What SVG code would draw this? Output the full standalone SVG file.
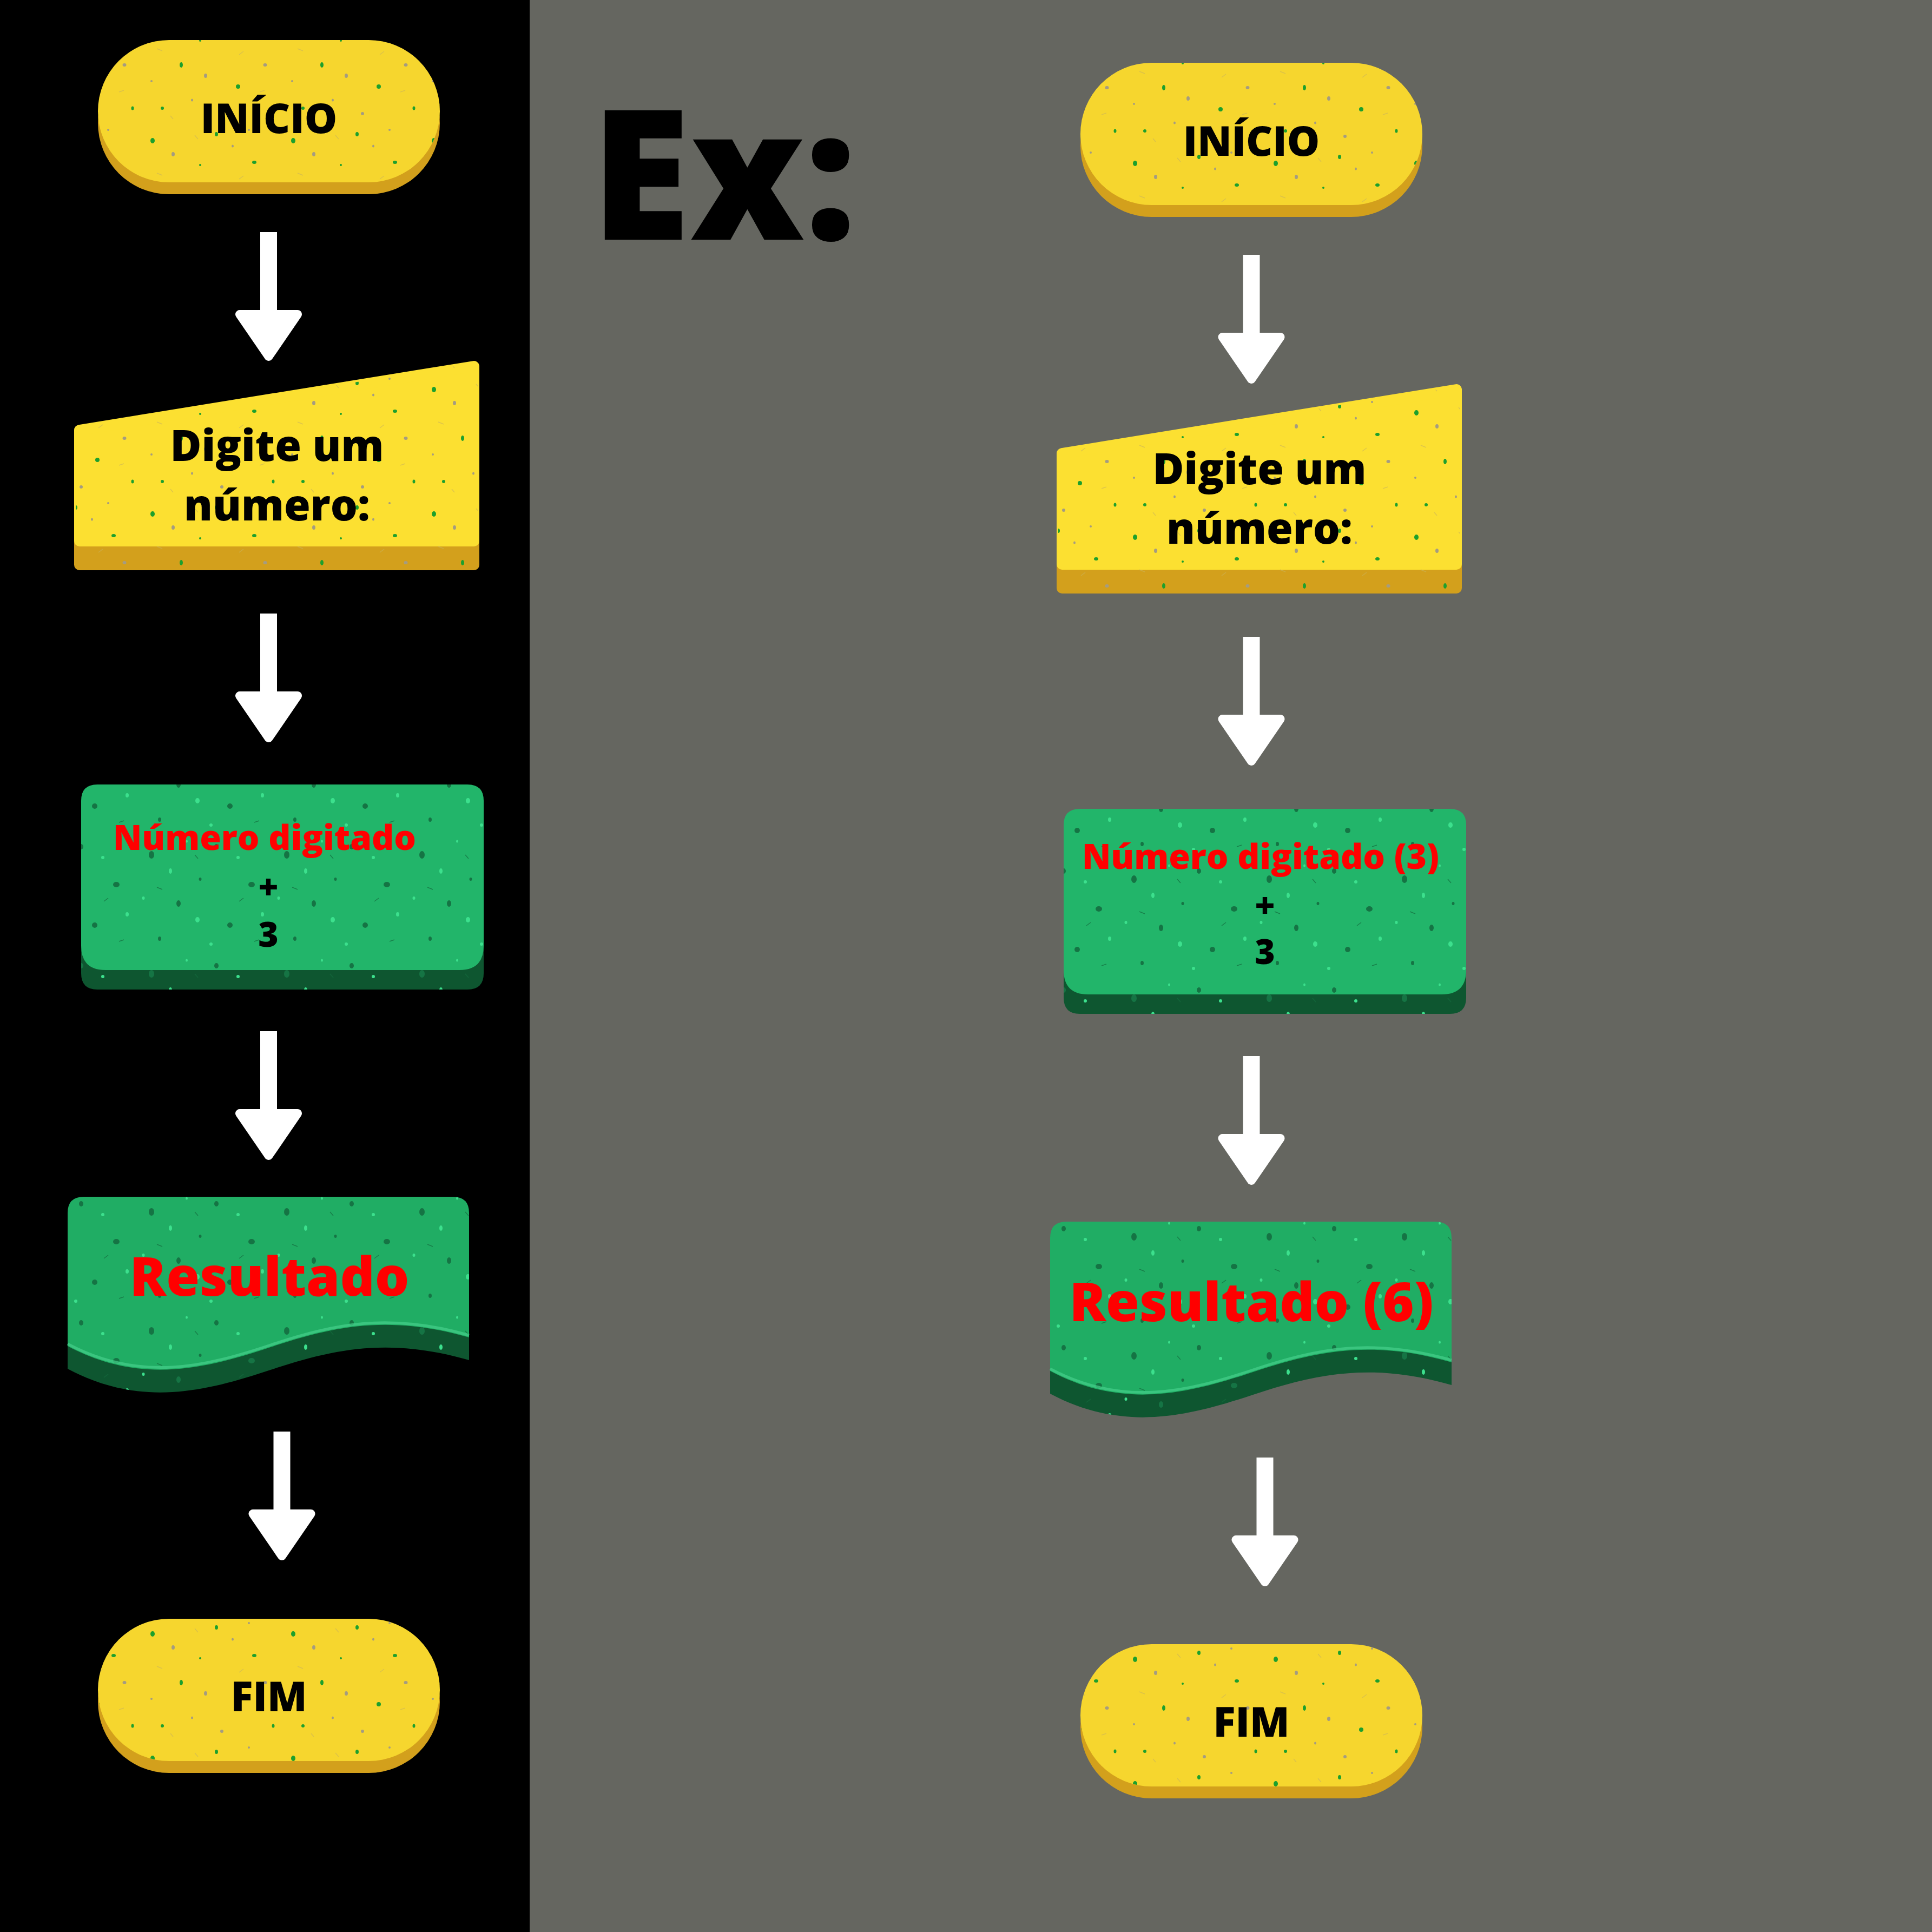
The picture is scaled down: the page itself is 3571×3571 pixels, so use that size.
<svg xmlns="http://www.w3.org/2000/svg" xmlns:xlink="http://www.w3.org/1999/xlink" width="3571" height="3571" viewBox="0 0 3571 3571">
<style>
.lbl{font-family:"Open Sans","Liberation Sans",sans-serif;font-weight:800;text-anchor:middle}
.blk{fill:#000}
.red{fill:#FF0000}
.yface{fill:#F6D62E}
.yface2{fill:#FCE031}
.yrim{fill:#D3A01C}
.gface{fill:#22B56A}
.gface2{fill:#20AD64}
.grim{fill:#0E5630}
.arrow{fill:#fff;stroke:#fff;stroke-width:16;stroke-linejoin:round}
</style>
<defs>
<pattern id="ySpk" patternUnits="userSpaceOnUse" width="260" height="230">
<g fill="#1DA02C">
<ellipse cx="22" cy="30" rx="4" ry="5"/><ellipse cx="140" cy="18" rx="3" ry="4"/><ellipse cx="210" cy="70" rx="4" ry="3"/>
<ellipse cx="75" cy="120" rx="3" ry="5"/><ellipse cx="180" cy="160" rx="4" ry="4"/><ellipse cx="40" cy="200" rx="3" ry="3"/>
<ellipse cx="245" cy="200" rx="2.5" ry="3.5"/><ellipse cx="110" cy="75" rx="2" ry="2"/>
</g>
<g fill="#A59C80">
<ellipse cx="60" cy="55" rx="3" ry="4"/><ellipse cx="170" cy="40" rx="2" ry="2.5"/><ellipse cx="230" cy="120" rx="3.5" ry="3"/>
<ellipse cx="120" cy="140" rx="3" ry="4"/><ellipse cx="20" cy="150" rx="2" ry="2"/><ellipse cx="150" cy="210" rx="3" ry="3"/>
<ellipse cx="95" cy="185" rx="2" ry="2.5"/><ellipse cx="200" cy="10" rx="2" ry="2"/>
</g>
<g stroke="#C9B25A" stroke-width="1.5" fill="none" opacity="0.6">
<path d="M30 90 l10 4"/><path d="M190 95 l-8 6"/><path d="M100 20 l6 7"/><path d="M220 170 l9 -3"/><path d="M60 220 l-5 -6"/>
</g>
</pattern>
<pattern id="gSpk" patternUnits="userSpaceOnUse" width="250" height="220">
<g fill="#157444">
<ellipse cx="30" cy="40" rx="5" ry="7"/><ellipse cx="150" cy="25" rx="4" ry="5"/><ellipse cx="215" cy="95" rx="6" ry="5"/>
<ellipse cx="80" cy="130" rx="4" ry="6"/><ellipse cx="175" cy="170" rx="5" ry="5"/><ellipse cx="45" cy="195" rx="3" ry="4"/>
<ellipse cx="120" cy="85" rx="2.5" ry="3"/>
</g>
<g fill="#3CE08D">
<ellipse cx="65" cy="70" rx="3" ry="5"/><ellipse cx="190" cy="45" rx="3" ry="3"/><ellipse cx="235" cy="150" rx="3" ry="4"/>
<ellipse cx="115" cy="160" rx="4" ry="5"/><ellipse cx="15" cy="120" rx="2.5" ry="3"/><ellipse cx="140" cy="205" rx="3" ry="3"/>
<ellipse cx="95" cy="15" rx="2" ry="2.5"/>
</g>
<g stroke="#126A3C" stroke-width="1.5" fill="none" opacity="0.7">
<path d="M40 100 l10 4"/><path d="M200 120 l-8 6"/><path d="M110 40 l6 7"/><path d="M220 200 l9 -3"/>
</g>
</pattern>
<g id="arrow">
<rect x="-15.5" y="0" width="31" height="152" fill="#fff"/>
<path class="arrow" d="M-53.5 152 L53.5 152 L0 230 Z"/>
</g>
</defs>

<rect x="0" y="0" width="3571" height="3571" fill="#656660"/>
<rect x="0" y="0" width="979" height="3571" fill="#000"/>

<text id="ex-title" x="1092" y="443" font-family="'Open Sans','Liberation Sans',sans-serif" font-weight="800" font-size="335" fill="#000">Ex:</text>

<g id="connectors">
<use xlink:href="#arrow" x="496.5" y="429"/>
<use xlink:href="#arrow" x="496.5" y="1134"/>
<use xlink:href="#arrow" x="496.5" y="1906"/>
<use xlink:href="#arrow" x="521" y="2646"/>
<use xlink:href="#arrow" x="2313" y="471"/>
<use xlink:href="#arrow" x="2313" y="1177"/>
<use xlink:href="#arrow" x="2313" y="1952"/>
<use xlink:href="#arrow" x="2338" y="2694"/>
</g>

<!-- LEFT COLUMN -->
<g id="l-inicio">
<rect class="yrim" x="181" y="96" width="632" height="263" rx="131.5"/>
<rect class="yface" x="181" y="74" width="632" height="263" rx="131.5"/>
<rect fill="url(#ySpk)" x="181" y="74" width="632" height="263" rx="131.5"/>
<text class="lbl blk" x="497" y="246" font-size="76">INÍCIO</text>
</g>

<g id="l-entrada">
<path class="yrim" stroke="#D3A01C" stroke-width="20" stroke-linejoin="round" d="M147 840 L876 722 L876 1044 L147 1044 Z"/>
<path class="yface2" stroke="#FCE031" stroke-width="20" stroke-linejoin="round" d="M147 795 L876 677 L876 1000 L147 1000 Z"/>
<path fill="url(#ySpk)" d="M140 790 L883 670 L883 1050 L140 1050 Z"/>
<text class="lbl blk" x="512" y="852" font-size="79">Digite um</text>
<text class="lbl blk" x="512" y="962" font-size="79">número:</text>
</g>

<g id="l-processo">
<path class="grim" d="M150 1500 V1799 Q150 1829 180 1829 H864 Q894 1829 894 1799 V1500 Z"/>
<path class="gface" d="M180 1450 H864 Q894 1450 894 1480 V1748 Q894 1793 849 1793 H195 Q150 1793 150 1748 V1480 Q150 1450 180 1450 Z"/>
<path fill="url(#gSpk)" d="M180 1450 H864 Q894 1450 894 1480 V1799 Q894 1829 864 1829 H180 Q150 1829 150 1799 V1480 Q150 1450 180 1450 Z"/>
<text class="lbl red" x="489" y="1571" font-size="64">Número digitado</text>
<text class="lbl blk" x="496" y="1662" font-size="64">+</text>
<text class="lbl blk" x="496" y="1750" font-size="64">3</text>
</g>

<g id="l-saida">
<path class="grim" d="M155 2254 H837 Q867 2254 867 2284 V2514 C720 2472 620 2492 500 2532 C380 2572 260 2602 125 2530 V2284 Q125 2254 155 2254 Z"/>
<path class="gface2" d="M155 2212 H837 Q867 2212 867 2242 V2472 C720 2430 620 2450 500 2490 C380 2530 260 2560 125 2488 V2242 Q125 2212 155 2212 Z"/>
<path fill="url(#gSpk)" d="M155 2212 H837 Q867 2212 867 2242 V2514 C720 2472 620 2492 500 2532 C380 2572 260 2602 125 2530 V2242 Q125 2212 155 2212 Z"/>
<path d="M867 2468 C720 2426 620 2446 500 2486 C380 2526 260 2556 125 2484" fill="none" stroke="#46CF8A" stroke-width="5" opacity="0.7"/>
<text class="lbl red" x="498" y="2395" font-size="100">Resultado</text>
</g>

<g id="l-fim">
<rect class="yrim" x="181" y="3014" width="632" height="263" rx="131.5"/>
<rect class="yface" x="181" y="2992" width="632" height="263" rx="131.5"/>
<rect fill="url(#ySpk)" x="181" y="2992" width="632" height="263" rx="131.5"/>
<text class="lbl blk" x="497" y="3163" font-size="76">FIM</text>
</g>

<!-- RIGHT COLUMN -->
<g id="r-inicio" transform="translate(1816,42)">
<rect class="yrim" x="181" y="96" width="632" height="263" rx="131.5"/>
<rect class="yface" x="181" y="74" width="632" height="263" rx="131.5"/>
<rect fill="url(#ySpk)" x="181" y="74" width="632" height="263" rx="131.5"/>
<text class="lbl blk" x="497" y="246" font-size="76">INÍCIO</text>
</g>

<g id="r-entrada" transform="translate(1816,43)">
<path class="yrim" stroke="#D3A01C" stroke-width="20" stroke-linejoin="round" d="M147 840 L876 722 L876 1044 L147 1044 Z"/>
<path class="yface2" stroke="#FCE031" stroke-width="20" stroke-linejoin="round" d="M147 795 L876 677 L876 1000 L147 1000 Z"/>
<path fill="url(#ySpk)" d="M140 790 L883 670 L883 1050 L140 1050 Z"/>
<text class="lbl blk" x="512" y="852" font-size="79">Digite um</text>
<text class="lbl blk" x="512" y="962" font-size="79">número:</text>
</g>

<g id="r-processo" transform="translate(1816,45)">
<path class="grim" d="M150 1500 V1799 Q150 1829 180 1829 H864 Q894 1829 894 1799 V1500 Z"/>
<path class="gface" d="M180 1450 H864 Q894 1450 894 1480 V1748 Q894 1793 849 1793 H195 Q150 1793 150 1748 V1480 Q150 1450 180 1450 Z"/>
<path fill="url(#gSpk)" d="M180 1450 H864 Q894 1450 894 1480 V1799 Q894 1829 864 1829 H180 Q150 1829 150 1799 V1480 Q150 1450 180 1450 Z"/>
<text class="lbl red" x="514" y="1561" font-size="64">Número digitado (3)</text>
<text class="lbl blk" x="522" y="1651" font-size="64">+</text>
<text class="lbl blk" x="522" y="1737" font-size="64">3</text>
</g>

<g id="r-saida" transform="translate(1816,46)">
<path class="grim" d="M155 2254 H837 Q867 2254 867 2284 V2514 C720 2472 620 2492 500 2532 C380 2572 260 2602 125 2530 V2284 Q125 2254 155 2254 Z"/>
<path class="gface2" d="M155 2212 H837 Q867 2212 867 2242 V2472 C720 2430 620 2450 500 2490 C380 2530 260 2560 125 2488 V2242 Q125 2212 155 2212 Z"/>
<path fill="url(#gSpk)" d="M155 2212 H837 Q867 2212 867 2242 V2514 C720 2472 620 2492 500 2532 C380 2572 260 2602 125 2530 V2242 Q125 2212 155 2212 Z"/>
<path d="M867 2468 C720 2426 620 2446 500 2486 C380 2526 260 2556 125 2484" fill="none" stroke="#46CF8A" stroke-width="5" opacity="0.7"/>
<text class="lbl red" x="497" y="2396" font-size="100">Resultado (6)</text>
</g>

<g id="r-fim" transform="translate(1816,47)">
<rect class="yrim" x="181" y="3014" width="632" height="263" rx="131.5"/>
<rect class="yface" x="181" y="2992" width="632" height="263" rx="131.5"/>
<rect fill="url(#ySpk)" x="181" y="2992" width="632" height="263" rx="131.5"/>
<text class="lbl blk" x="497" y="3163" font-size="76">FIM</text>
</g>
</svg>
